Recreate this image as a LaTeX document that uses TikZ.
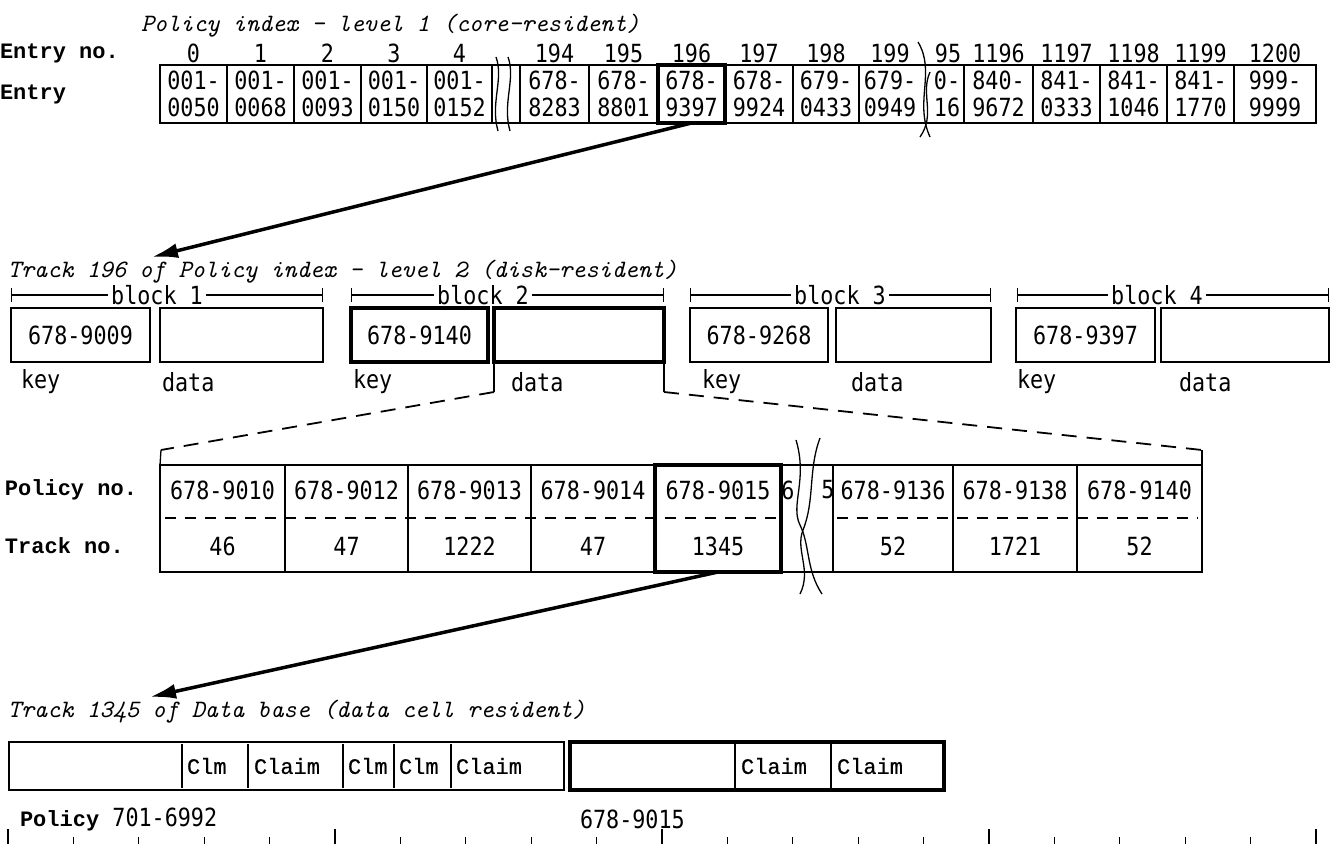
\documentclass[tikz,border=0pt]{standalone}
\usepackage{fontspec}
\newfontfamily\dm[FakeStretch=0.87]{DejaVu Sans Mono}
\newfontfamily\cm{Liberation Mono}
\usetikzlibrary{arrows.meta}
\newcommand\fs[1]{\fontsize{#1}{#1}\selectfont}
\tikzset{
  every node/.style={inner sep=0pt, outer sep=0pt},
  thinln/.style={line width=1.3pt},
  thickln/.style={line width=4pt},
  tcell/.style={draw, thinln, minimum height=58pt, align=center, font=\dm\fontsize{25}{27}\selectfont},
  ttext/.style={align=center, font=\dm\fontsize{25}{27}\selectfont},
  hnum/.style={font=\dm\fs{25}},
  lab/.style={anchor=west, font=\cm\bfseries\fs{22}},
  ttl/.style={anchor=west, font=\ttfamily\itshape\fs{25}\addfontfeatures{FakeBold=0.6}},
  digit/.style={font=\dm\fs{25}},
  box/.style={draw, thinln, minimum height=54pt, font=\dm\fs{25}},
  klab/.style={anchor=west, font=\dm\fs{25}},
  blk/.style={font=\dm\fs{25}, fill=white, inner xsep=3pt},
  bracket/.style={thinln, {Bar[width=14pt]}-{Bar[width=14pt]}},
  mbox/.style={draw, thinln, minimum height=107pt},
  bbox/.style={draw, thinln, minimum height=48pt},
  clm/.style={anchor=west, font=\cm\fs{22}\addfontfeatures{FakeBold=0.5}},
  bigarrow/.style={line width=3.5pt, -{Latex[length=26pt,width=15pt]}},
  dline/.style={line width=1.8pt, dash pattern=on 15pt off 10pt},
  sepline/.style={line width=1.8pt, dash pattern=on 11pt off 9pt},
  squig/.style={line width=1.3pt},
}
\newcommand\tc[5]{%
  \pgfmathsetmacro\cw{#3-#2}%
  \pgfmathsetmacro\cx{(#2+#3)/2}%
  \node[tcell, minimum width=\cw pt] (#1) at (\cx,94) {#4\\#5};}
\newcommand\mc[5]{%
  \pgfmathsetmacro\cw{#3-#2}%
  \pgfmathsetmacro\cx{(#2+#3)/2}%
  \node[mbox, minimum width=\cw pt] (#1) at (\cx,518.5) {};
  \node[digit] (#1a) at (\cx,490) {#4};
  \node[digit] (#1b) at (\cx,546) {#5};}
\begin{document}
\begin{tikzpicture}[x=1pt,y=-1pt]
\useasboundingbox[fill=white] (0,0) rectangle (1335,844);

% ---------- level 1 ----------
\node[ttl] (t1) at (141,26) {Policy index - level 1 (core-resident)};
\node[lab] (entryno) at (0,53) {Entry no.};
\node[lab] (entry) at (0,94) {Entry};
\foreach \t/\x in {0/193.5,1/260.5,2/327.5,3/394,4/459.5,194/554.5,195/623.5,196/691.5,197/759,198/826,199/890,95/948,1196/998.5,1197/1066.5,1198/1133.5,1199/1200.5,1200/1275}
  \node[hnum] (h\t) at (\x,53) {\t};
\draw[thinln] (160,65) -- (1316,65) (160,123) -- (1316,123);
\tc{c0}{160}{227}{001-}{0050}
\tc{c1}{227}{294}{001-}{0068}
\tc{c2}{294}{361}{001-}{0093}
\tc{c3}{361}{427}{001-}{0150}
\tc{c4}{427}{492}{001-}{0152}
\tc{c194}{520}{589}{678-}{8283}
\tc{c195}{589}{658}{678-}{8801}
\tc{c197}{725}{793}{678-}{9924}
\tc{c198}{793}{859}{679-}{0433}
\node[ttext] (c199) at (890,94) {679-\\0949};
\node[ttext] (c95) at (947,94) {0-\\16};
\tc{c1196}{964}{1033}{840-}{9672}
\tc{c1197}{1033}{1100}{841-}{0333}
\tc{c1198}{1100}{1167}{841-}{1046}
\tc{c1199}{1167}{1234}{841-}{1770}
\tc{c1200}{1234}{1316}{999-}{9999}
\node[tcell, thickln, minimum width=67pt] (c196) at (691.5,94) {678-\\9397};
% breaks
\draw[squig] (496,57) .. controls (504,79) and (490,103) .. (498,131);
\draw[squig] (508,57) .. controls (516,79) and (502,103) .. (510,131);
\draw[squig] (918,42) .. controls (936,72) and (914,102) .. (930,137);
\draw[squig] (930,72) .. controls (920,94) and (936,114) .. (920,137);

% arrow 1
\coordinate (tip1) at (152,257);
\draw[bigarrow] (c196.south) -- (tip1);

% ---------- level 2 ----------
\node[ttl] (t2) at (8,272) {Track 196 of Policy index - level 2 (disk-resident)};
\draw[bracket] (11,295) -- (323,295);
\node[blk] (bl1) at (157,295) {block 1};
\draw[bracket] (351,295) -- (664,295);
\node[blk] (bl2) at (483,295) {block 2};
\draw[bracket] (690,295) -- (991,295);
\node[blk] (bl3) at (840,295) {block 3};
\draw[bracket] (1017,295) -- (1329,295);
\node[blk] (bl4) at (1157,295) {block 4};

\node[box, minimum width=139pt] (k1) at (80.5,335) {678-9009};
\node[box, minimum width=163pt] (d1) at (241.5,335) {};
\node[box, thickln, minimum width=137pt] (k2) at (419.5,335) {678-9140};
\node[box, thickln, minimum width=170pt] (d2) at (579,335) {};
\node[box, minimum width=138pt] (k3) at (759,335) {678-9268};
\node[box, minimum width=155pt] (d3) at (913.5,335) {};
\node[box, minimum width=139pt] (k4) at (1085.5,335) {678-9397};
\node[box, minimum width=168pt] (d4) at (1245,335) {};

\node[klab] (kl1) at (21,382) {key};
\node[klab] (dl1) at (162,382) {data};
\node[klab] (kl2) at (353,382) {key};
\node[klab] (dl2) at (511,382) {data};
\node[klab] (kl3) at (702,382) {key};
\node[klab] (dl3) at (851,382) {data};
\node[klab] (kl4) at (1017,382) {key};
\node[klab] (dl4) at (1179,382) {data};

% ---------- expanded data ----------
\node[lab] (polno) at (5,490) {Policy no.};
\node[lab] (trno) at (5,546) {Track no.};
\draw[thinln] (160,465) -- (1202,465) (160,572) -- (1202,572);
\mc{p1}{160}{285}{678-9010}{46}
\mc{p2}{285}{408}{678-9012}{47}
\mc{p3}{408}{531}{678-9013}{1222}
\mc{p4}{531}{655}{678-9014}{47}
\mc{p6}{833}{953}{678-9136}{52}
\mc{p7}{953}{1077}{678-9138}{1721}
\mc{p8}{1077}{1202}{678-9140}{52}
\node[mbox, thickln, minimum width=126pt] (p5) at (718,518.5) {};
\node[digit] (p5a) at (718,490) {678-9015};
\node[digit] (p5b) at (718,546) {1345};
\node[digit] (q6) at (788,490) {6};
\node[digit] (q5) at (828,490) {5};
\draw[sepline] (165,518) -- (778,518) (837,518) -- (1198,518);
\draw[squig] (796,440) .. controls (808,480) and (790,505) .. (800,525) .. controls (810,545) and (806,570) .. (822,594);
\draw[squig] (820,438) .. controls (808,470) and (815,500) .. (803,530) .. controls (795,550) and (812,570) .. (800,594);

% zoom lines
\coordinate (s1) at (494,392);
\coordinate (s2) at (664,392);
\coordinate (e1) at (161,450);
\coordinate (e2) at (1202,450);
\draw[thinln] (d2.south west) -- (s1);
\draw[thinln] (d2.south east) -- (s2);
\draw[dline] (s1) -- (e1);
\draw[dline] (s2) -- (e2);
\draw[thinln] (e1) -- (p1.north west);
\draw[thinln] (e2) -- (p8.north east);

% arrow 2
\coordinate (tip2) at (150,697);
\draw[bigarrow] (p5.south) -- (tip2);

% ---------- data base ----------
\node[ttl] (t3) at (8,712) {Track 1345 of Data base (data cell resident)};
\node[bbox, minimum width=555pt] (b1) at (286.5,766) {};
\foreach \x in {182,248,343,394,451} \draw[thinln] (\x,744) -- (\x,788);
\node[clm] (cl1) at (187,766) {Clm};
\node[clm] (cl2) at (254,766) {Claim};
\node[clm] (cl3) at (348,766) {Clm};
\node[clm] (cl4) at (399,766) {Clm};
\node[clm] (cl5) at (456,766) {Claim};
\node[bbox, thickln, minimum width=374pt] (b2) at (757,766) {};
\foreach \x in {735,831} \draw[thinln] (\x,744) -- (\x,788);
\node[clm] (cl6) at (741,766) {Claim};
\node[clm] (cl7) at (837,766) {Claim};

\node[anchor=west] (pol) at (20,819) {\cm\bfseries\fs{22}Policy \dm\mdseries\fs{25}701-6992};
\node[anchor=west, digit] (pol2) at (580,819) {678-9015};
\foreach \i in {0,...,20} {
  \pgfmathsetmacro\tx{8+\i*65.4}
  \pgfmathtruncatemacro\m{mod(\i,5)}
  \ifnum\m=0 \draw[thinln] (\tx,829) -- (\tx,844);
  \else \draw[thinln] (\tx,837) -- (\tx,844); \fi
}
\end{tikzpicture}
\end{document}
